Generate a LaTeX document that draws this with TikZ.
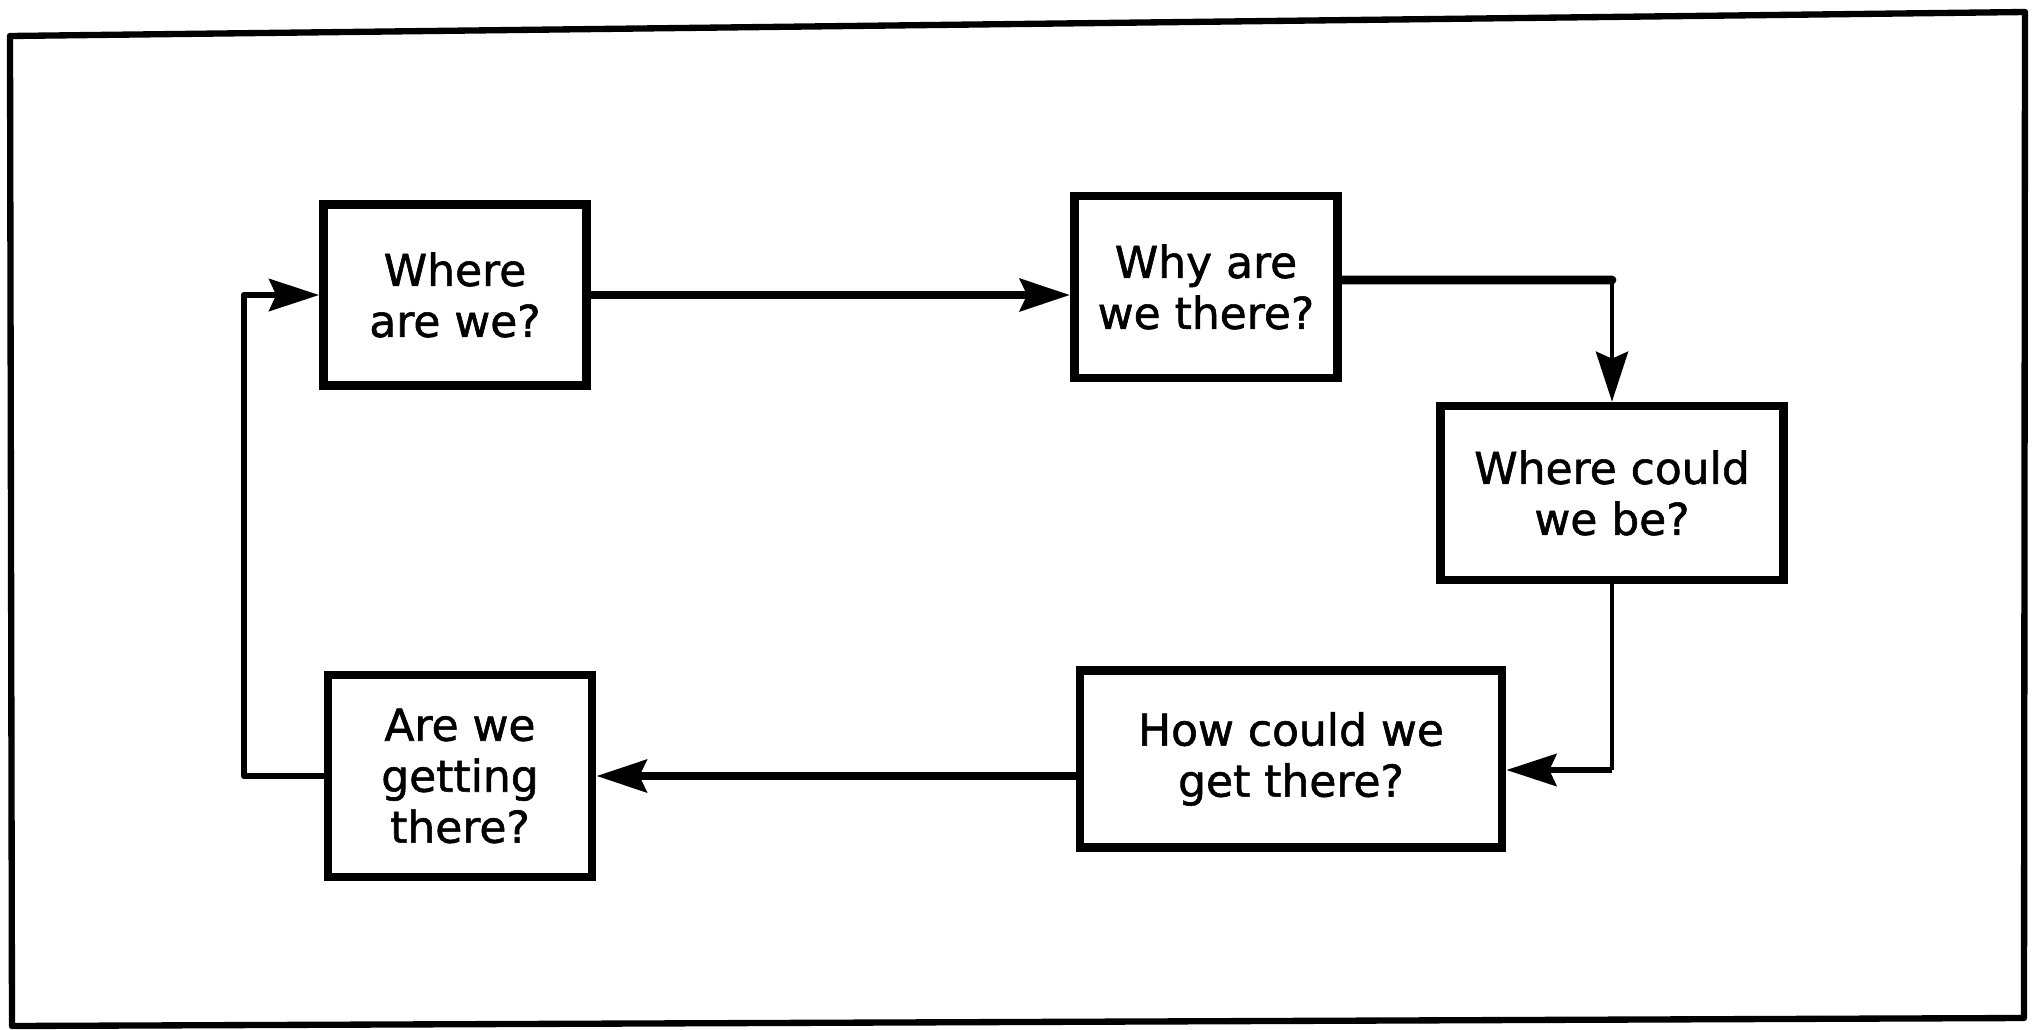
\documentclass[tikz,border=0pt]{standalone}
\usepackage{fontspec}
\setmainfont[FakeBold=1.3]{DejaVu Sans}
\usetikzlibrary{arrows.meta}
\begin{document}
\begin{tikzpicture}[x=0.01cm,y=-0.01cm,
  qbox/.style={draw,line width=2.4pt,align=center,inner sep=0pt,
    font=\fontsize{12.5}{14.5}\selectfont},
  tip/.style={-{Stealth[length=5mm,width=3.2mm,inset=0.7mm]}},
  thick conn/.style={line width=2.5pt},
  thin conn/.style={line width=1.4pt},
  mid conn/.style={line width=1.8pt}]
\useasboundingbox (0,0) rectangle (2035,1030);
% frame
\draw[line width=1.8pt,line join=round] (10,36) -- (2025,12) -- (2024,1018) -- (12,1026) -- cycle;
\draw[line width=1.2pt] (10,36) -- (2025,12);
% boxes
\node[qbox,minimum width=2.63cm,minimum height=1.81cm] (b1) at (455,295) {Where\\are we?};
\node[qbox,minimum width=2.63cm,minimum height=1.82cm] (b2) at (1206,287) {Why are\\we there?};
\node[qbox,minimum width=3.43cm,minimum height=1.74cm] (b3) at (1612,493) {Where could\\we be?};
\node[qbox,minimum width=4.22cm,minimum height=1.77cm] (b4) at (1291,759) {How could we\\get there?};
\node[qbox,minimum width=2.64cm,minimum height=2.02cm] (b5) at (460,776) {Are we\\getting\\there?};
% connectors
\draw[thick conn,tip] (b1.east) -- (b2.west |- b1.east);
\coordinate (c23) at (b3.north |- 0,280);
\draw[thick conn,line cap=round] ([yshift=0.07cm]b2.east) -- (c23);
\draw[thin conn,tip] (c23) -- (b3.north);
\coordinate (c34) at (b3.south |- 0,770);
\draw[thin conn,line join=round] (b3.south) -- (c34);
\draw[mid conn,tip] (c34) -- (b4.east |- c34);
\draw[thick conn,tip] (b4.west |- b5.east) -- (b5.east);
\coordinate (c51) at (244,780);
\draw[mid conn,tip,line join=round] (b5.west) -- (b5.west -| c51) |- (b1.west);
\end{tikzpicture}
\end{document}
